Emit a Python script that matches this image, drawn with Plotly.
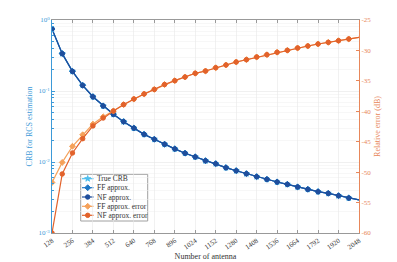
import plotly.graph_objects as go

# ---- data ----
antennas = [128 + 64 * i for i in range(31)]  # 128 ... 2048

crb_true = [0.746, 0.336, 0.189, 0.120, 0.083, 0.0616, 0.047, 0.037, 0.030,
            0.0245, 0.0209, 0.0178, 0.0153, 0.0133, 0.0118, 0.0104,
            0.00946, 0.00832, 0.00754, 0.00684, 0.00621, 0.00570, 0.00523,
            0.00485, 0.00445, 0.00412, 0.00382, 0.00362, 0.00335, 0.00311, 0.00292]
crb_ff = list(crb_true)
crb_nf = list(crb_true)

err_ff = [-51.7, -48.4, -45.75, -43.85, -42.1, -40.9, -39.95, -38.9, -37.98,
          -37.15, -36.4, -35.6, -34.97, -34.37, -33.76, -33.38, -32.84, -32.39,
          -31.9, -31.52, -31.08, -30.7, -30.3, -29.98, -29.6, -29.27, -28.94,
          -28.67, -28.4, -28.12, -27.85]
err_nf = [-60.0, -50.3, -46.85, -44.5, -42.4, -41.1, -39.95, -38.9, -37.98,
          -37.15, -36.4, -35.6, -34.97, -34.37, -33.76, -33.38, -32.84, -32.39,
          -31.9, -31.52, -31.08, -30.7, -30.3, -29.98, -29.6, -29.27, -28.94,
          -28.67, -28.4, -28.12, -27.85]

series_names = ["True CRB", "FF approx.", "NF approx.", "FF approx. error", "NF approx. error"]
series_colors = ["#4dbeee", "#1f77c4", "#1f4e9c", "#f5a15a", "#e2622b"]
series_symbols = ["star", "diamond", "circle", "diamond", "circle"]
series_axes = ["y", "y", "y", "y2", "y2"]
series_values = [crb_true, crb_ff, crb_nf, err_ff, err_nf]

x_ticks = [128 * k for k in range(1, 17)]
left_major = [0.001, 0.01, 0.1, 1]
left_major_text = ["10<sup>-3</sup>", "10<sup>-2</sup>", "10<sup>-1</sup>", "10<sup>0</sup>"]
left_minor = [d * m for d in (0.001, 0.01, 0.1) for m in range(2, 10)]
right_ticks = [-60, -55, -50, -45, -40, -35, -30, -25]

FONT = "Liberation Serif"
BLUE_AX = "#3d9ad8"
ORANGE_AX = "#e8875a"
W, H = 397, 262
ML, MR, MT, MB = 52, 38, 20, 29
PW, PH = W - ML - MR, H - MT - MB

def px_x(px):
    return (px - ML) / PW

def px_y(py):
    return (H - MB - py) / PH

fig = go.Figure()

for name, y, color, symbol, axis in zip(series_names, series_values, series_colors,
                                        series_symbols, series_axes):
    # full curve as a line (last point carries no marker in the reference)
    fig.add_trace(go.Scatter(
        x=antennas, y=y, yaxis=axis, mode="lines", showlegend=False,
        line=dict(color=color, width=1.2), hoverinfo="skip",
    ))
    fig.add_trace(go.Scatter(
        x=antennas[:-1], y=y[:-1], name=name, yaxis=axis, mode="markers",
        showlegend=False,
        marker=dict(symbol=symbol, size=4.5, color=color,
                    line=dict(color=color, width=1)),
    ))

# ---- compact legend (box, sample lines, markers, labels) ----
box_l, box_r, box_t, box_b = 80.7, 147.7, 174.3, 221.0
row_y = [178.7, 187.7, 197.0, 206.3, 215.3]
line_l, line_r, mark_x, text_x = 82.0, 93.5, 87.7, 94.5

shapes = [dict(type="rect", xref="paper", yref="paper",
               x0=px_x(box_l), x1=px_x(box_r), y0=px_y(box_b), y1=px_y(box_t),
               line=dict(color="#a0a0a0", width=1), fillcolor="white", layer="between")]
annotations = []
for ry, name, color in zip(row_y, series_names, series_colors):
    shapes.append(dict(type="line", xref="paper", yref="paper",
                       x0=px_x(line_l), x1=px_x(line_r), y0=px_y(ry), y1=px_y(ry),
                       line=dict(color=color, width=1.2), layer="between"))
    annotations.append(dict(xref="paper", yref="paper", x=px_x(text_x), y=px_y(ry),
                            xanchor="left", yanchor="middle", showarrow=False,
                            text=name, font=dict(family=FONT, size=7.5, color="#333333")))

fig.add_trace(go.Scatter(
    x=[px_x(mark_x)] * len(row_y), y=[px_y(r) for r in row_y],
    xaxis="x2", yaxis="y3", mode="markers", showlegend=False, hoverinfo="skip",
    marker=dict(symbol=series_symbols, size=4.5, color=series_colors,
                line=dict(color=series_colors, width=1)),
))

fig.update_layout(
    width=W, height=H,
    margin=dict(l=ML, r=MR, t=MT, b=MB),
    paper_bgcolor="white", plot_bgcolor="white",
    font=dict(family=FONT, size=7, color="#333333"),
    showlegend=False,
    shapes=shapes, annotations=annotations,
    xaxis=dict(
        range=[128, 2048], tickmode="array", tickvals=x_ticks,
        ticktext=[str(v) for v in x_ticks], tickangle=-35,
        showgrid=True, gridcolor="#e8e8e8", gridwidth=0.6,
        showline=True, linecolor="#999999", linewidth=1, mirror="ticks",
        ticks="inside", ticklen=3, tickcolor="#999999",
        tickfont=dict(family=FONT, size=7, color="#333333"),
        title=dict(text="Number of antenna", font=dict(family=FONT, size=8, color="#333333"),
                   standoff=2),
        zeroline=False, automargin=False,
    ),
    yaxis=dict(
        type="log", range=[-3, 0], tickmode="array",
        tickvals=left_major, ticktext=left_major_text,
        showgrid=True, gridcolor="#e6e6e6", gridwidth=0.6,
        minor=dict(tickmode="array", tickvals=left_minor, showgrid=True,
                   gridcolor="#f0f0f0", gridwidth=0.5,
                   ticks="inside", ticklen=2, tickcolor=BLUE_AX),
        showline=True, linecolor=BLUE_AX, linewidth=1,
        ticks="inside", ticklen=3, tickcolor=BLUE_AX,
        tickfont=dict(family=FONT, size=7, color=BLUE_AX),
        title=dict(text="CRB for RCS estimation", font=dict(family=FONT, size=8, color=BLUE_AX),
                   standoff=4),
        zeroline=False, automargin=False,
    ),
    yaxis2=dict(
        overlaying="y", side="right", range=[-60, -25],
        tickmode="array", tickvals=right_ticks, ticktext=[str(v) for v in right_ticks],
        showgrid=False,
        showline=True, linecolor=ORANGE_AX, linewidth=1,
        ticks="inside", ticklen=3, tickcolor=ORANGE_AX,
        tickfont=dict(family=FONT, size=7, color=ORANGE_AX),
        title=dict(text="Relative error (dB)", font=dict(family=FONT, size=8, color=ORANGE_AX),
                   standoff=4),
        zeroline=False, automargin=False,
    ),
    xaxis2=dict(overlaying="x", range=[0, 1], visible=False, fixedrange=True),
    yaxis3=dict(overlaying="y", range=[0, 1], visible=False, fixedrange=True),
)

fig.write_html(
    "out.html",
    config={"displayModeBar": False, "staticPlot": True},
    post_script="document.body.style.margin='0';document.body.style.overflow='hidden';",
)
